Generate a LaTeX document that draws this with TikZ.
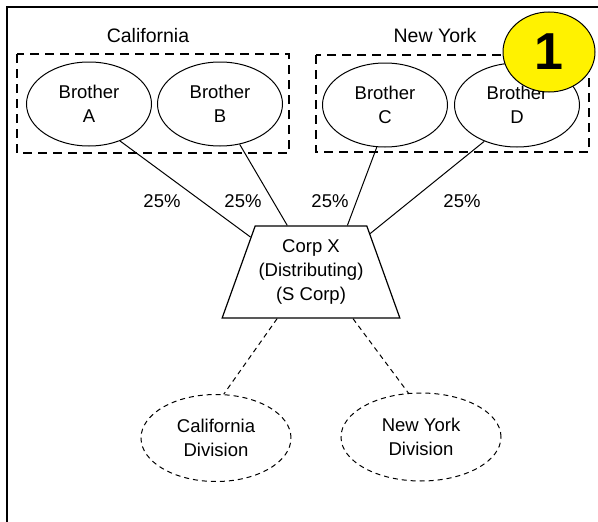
\documentclass[tikz,border=0pt]{standalone}
\usepackage{fontspec}
\setmainfont{Liberation Sans}
\usetikzlibrary{shapes.geometric}
\begin{document}
\begin{tikzpicture}[x=1pt,y=-1pt,
  every node/.style={font=\fontsize{18.5}{24}\selectfont, align=center, inner sep=0pt},
  lbl/.style={font=\fontsize{19.5}{24}\selectfont},
  bro/.style={draw, ellipse, minimum width=125pt, minimum height=84pt, line width=1pt},
  div/.style={draw, ellipse, line width=1pt, dash pattern=on 5pt off 4pt},
  grp/.style={draw, line width=2.5pt, dash pattern=on 9pt off 6pt},
  own/.style={line width=1pt},
  sub/.style={line width=1pt, dash pattern=on 5pt off 4pt},
  corp/.style={draw, shape=trapezium, trapezium left angle=64.4, trapezium right angle=64.4,
    trapezium stretches=true, minimum width=178pt, minimum height=92pt, line width=1.2pt},
  badge/.style={draw, ellipse, fill=yellow, line width=1pt, minimum width=92pt, minimum height=80pt,
    font=\fontsize{52}{52}\selectfont\bfseries}
]
\useasboundingbox (0,0) rectangle (598,522);
% frame (top and left edges)
\draw[line width=2pt] (6.5,522) -- (6.5,7) -- (598,7);

% groups
\draw[grp] (17,54) rectangle (289,153);
\draw[grp] (316,55) rectangle (589,152);
\node[lbl] (cal) at (148,36) {California};
\node[lbl] (ny) at (435,36) {New York};

% brothers
\node[bro] (A) at (89,104) {Brother\\A};
\node[bro] (B) at (220,104) {Brother\\B};
\node[bro] (C) at (385,105) {Brother\\C};
\node[bro] (D) at (517,105) {Brother\\D};

% corp
\node[corp] (X) at (311,272) {Corp X\\(Distributing)\\(S Corp)};

% divisions
\node[div, minimum width=150pt, minimum height=87pt] (CD) at (216,438) {California\\Division};
\node[div, minimum width=160pt, minimum height=88pt] (ND) at (421,437) {New York\\Division};

% ownership
\draw[own] (A.-50) -- (X.150.9);
\draw[own] (B.-64) -- (X.117.6);
\draw[own] (C.259) -- (X.52);
\draw[own] (D.228) -- (X.33);
\node (pA) at (162,201) {25\%};
\node (pB) at (243,201) {25\%};
\node (pC) at (330,201) {25\%};
\node (pD) at (462,201) {25\%};

% divisions connectors
\draw[sub] (X.234.4) -- (CD.80);
\draw[sub] (X.-48.3) -- (ND.106.5);

% badge
\node[badge] (one) at (549,52) {1};
\end{tikzpicture}
\end{document}
